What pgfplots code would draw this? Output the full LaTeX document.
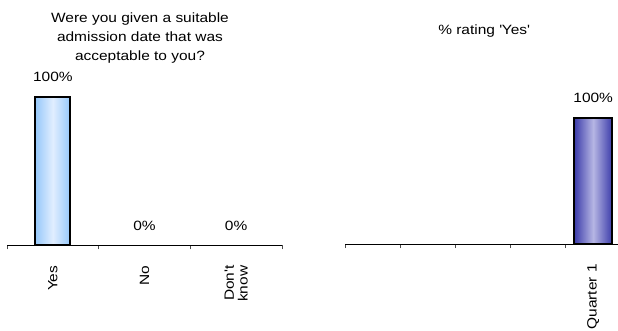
\documentclass[border=0pt]{standalone}
\usepackage{pgfplots}
\pgfplotsset{compat=1.18}
\usepackage{fontspec}
\setmainfont{Liberation Sans}[FakeStretch=1.15]
\definecolor{lbEdge}{RGB}{150,200,250}
\definecolor{lbMid}{RGB}{225,238,255}
\definecolor{dbEdge}{RGB}{60,60,170}
\definecolor{dbMid}{RGB}{182,182,228}
\begin{document}
\begin{tikzpicture}
\pgfplotsset{
  myaxis/.style={
    scale only axis, clip=false,
    axis x line*=bottom, axis y line=none,
    ymin=0, ymax=100,
    ybar, bar shift=0pt,
    /pgf/number format/assume math mode=true,
    x axis line style={line width=0.8bp, black},
    major tick length=0pt,
    minor tick length=4bp,
    tick align=outside,
    minor tick style={line width=0.6bp, black!70},
    xticklabel style={rotate=90, anchor=east, inner sep=0pt, align=right,
      font=\fontsize{13.5}{14}\selectfont},
    xticklabel shift=20bp,
    ytick=\empty,
    title style={at={(0.5,1)}, anchor=south, inner sep=0pt, align=center,
      font=\fontsize{13.5}{19}\selectfont},
    nodes near coords={\pgfmathprintnumber{\pgfplotspointmeta}\%},
    every node near coord/.append style={anchor=base, inner sep=0pt, yshift=15bp,
      font=\fontsize{13.5}{14}\selectfont, text=black},
  }
}
% Left chart
\begin{axis}[myaxis,
  at={(7bp,85.5bp)}, anchor=south west,
  width=275bp, height=148.5bp,
  xmin=-0.5, xmax=2.5,
  xtick={0,1,2},
  xticklabels={Yes,No,{Don\textquotesingle t\\know}},
  minor xtick={-0.5,0.5,1.5,2.5},
  title={Were you given a suitable\\admission date that was\\acceptable to you?},
  title style={yshift=28bp, xshift=-4.5bp},
]
\addplot[bar width=35bp, draw=black, line width=2bp,
  left color=lbEdge, right color=lbEdge, middle color=lbMid]
  coordinates {(0,100)};
\addplot[bar width=35bp, draw=none, fill=none,
  every node near coord/.append style={yshift=-0.5bp}]
  coordinates {(1,0) (2,0)};
\end{axis}
% Right chart
\begin{axis}[myaxis,
  at={(345bp,87bp)}, anchor=south west,
  width=273bp, height=126bp,
  xmin=-0.5, xmax=4.45,
  xtick={4},
  xticklabels={Quarter 1},
  minor xtick={-0.5,0.5,1.5,2.5,3.5},
  title={\% rating \textquotesingle Yes\textquotesingle},
  title style={yshift=75bp, xshift=2.5bp},
]
\addplot[bar width=38bp, draw=black, line width=2bp,
  left color=dbEdge, right color=dbEdge, middle color=dbMid]
  coordinates {(4,100)};
\end{axis}
\pgfresetboundingbox
\path[use as bounding box] (0bp,0bp) rectangle (618bp,331bp);
\end{tikzpicture}
\end{document}
